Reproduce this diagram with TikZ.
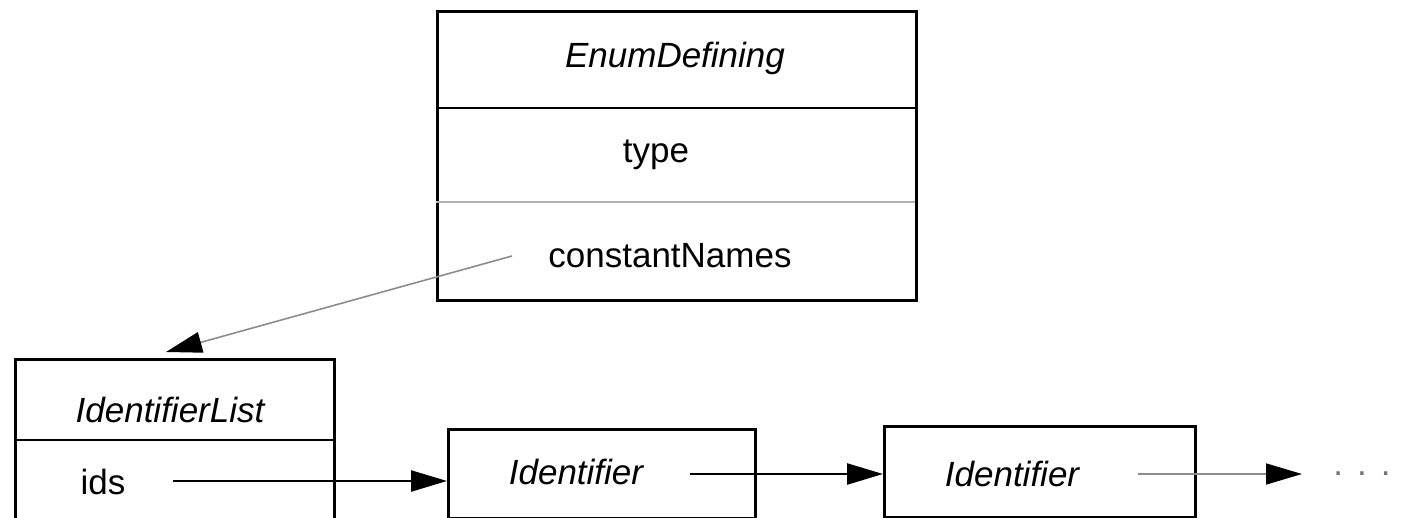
\documentclass[tikz,border=0pt]{standalone}
\usepackage{fontspec}
\setmainfont{Liberation Sans}
\usetikzlibrary{arrows.meta}
\begin{document}
\begin{tikzpicture}[x=1pt,y=-1pt,
  box/.style={draw=black,line width=2.8pt,inner sep=0pt,anchor=north west},
  lbl/.style={font=\fontsize{35}{40}\selectfont,inner sep=0pt},
  ilbl/.style={lbl,font=\fontsize{35}{40}\selectfont\itshape},
  conn/.style={line width=2.4pt,-{Triangle[length=36pt,width=21pt,color=black]}},
  gconn/.style={conn,draw=black!45,line width=1.6pt}]
\useasboundingbox (0,0) rectangle (1407,518);
% EnumDefining
\node[box,minimum width=479pt,minimum height=289pt] (enum) at (436,10) {};
\draw[line width=2.8pt] (436,108) coordinate (ed1) -- (918,108);
\draw[line width=2.4pt,black!30] (436,202) -- (915,202);
\node[ilbl] (enumT) at (675,58) {EnumDefining};
\node[lbl] (type) at (656,155) {type};
\node[lbl] (cn) at (670,256) {constantNames};
% IdentifierList
\node[box,minimum width=319pt,minimum height=180pt] (il) at (14,358) {};
\draw[line width=2.8pt] (14,440) -- (333,440);
\node[ilbl] (ilT) at (170,410) {IdentifierList};
\node[lbl] (ids) at (103,482) {ids};
% Identifiers
\node[box,minimum width=307pt,minimum height=89pt] (id1) at (447,428) {};
\node[ilbl] (id1T) at (576,472) {Identifier};
\node[box,minimum width=311pt,minimum height=91pt] (id2) at (883,425) {};
\node[ilbl] (id2T) at (1012,474) {Identifier};
\node[lbl,text=black!55] (dots) at (1362,474) {.\hspace{14pt}.\hspace{14pt}.};
% connectors
\coordinate (cnS) at (512,256);
\coordinate (ilN) at (166,352);
\draw[gconn] (cnS) -- (ilN);
\coordinate (idsS) at (173,481);
\draw[conn] (idsS) -- (id1.west |- idsS);
\coordinate (id1S) at (690,474);
\draw[conn] (id1S) -- (id2.west |- id1S);
\coordinate (id2S) at (1138,474);
\coordinate (dotsW) at (1302,474);
\draw[gconn] (id2S) -- (dotsW);
\end{tikzpicture}
\end{document}
